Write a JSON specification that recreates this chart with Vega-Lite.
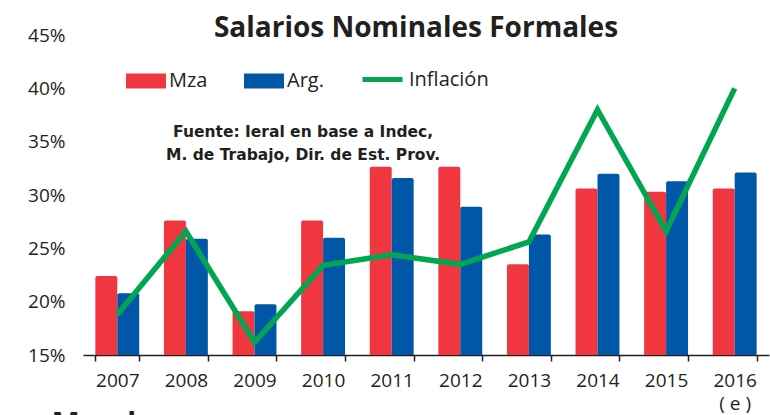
{
  "$schema": "https://vega.github.io/schema/vega-lite/v6.json",
  "width": 686,
  "height": 320,
  "autosize": {"type": "none"},
  "padding": {"left": 83, "top": 35, "right": 1, "bottom": 60},
  "background": "white",
  "config": {
    "view": {"stroke": null},
    "font": "Open Sans",
    "text": {"font": "Open Sans"}
  },
  "title": {
    "text": "Salarios Nominales Formales",
    "font": "Open Sans",
    "fontSize": 28,
    "fontWeight": "bold",
    "color": "#231F20",
    "anchor": "middle",
    "baseline": "alphabetic",
    "offset": 0,
    "dx": -10,
    "dy": 39
  },
  "datasets": {
    "bars": [
      {"year": "2007", "series": "Mza", "value": 22.4},
      {"year": "2007", "series": "Arg.", "value": 20.8},
      {"year": "2008", "series": "Mza", "value": 27.6},
      {"year": "2008", "series": "Arg.", "value": 25.9},
      {"year": "2009", "series": "Mza", "value": 19.1},
      {"year": "2009", "series": "Arg.", "value": 19.75},
      {"year": "2010", "series": "Mza", "value": 27.6},
      {"year": "2010", "series": "Arg.", "value": 26.0},
      {"year": "2011", "series": "Mza", "value": 32.65},
      {"year": "2011", "series": "Arg.", "value": 31.6},
      {"year": "2012", "series": "Mza", "value": 32.65},
      {"year": "2012", "series": "Arg.", "value": 28.9},
      {"year": "2013", "series": "Mza", "value": 23.5},
      {"year": "2013", "series": "Arg.", "value": 26.3},
      {"year": "2014", "series": "Mza", "value": 30.6},
      {"year": "2014", "series": "Arg.", "value": 32.0},
      {"year": "2015", "series": "Mza", "value": 30.3},
      {"year": "2015", "series": "Arg.", "value": 31.3},
      {"year": "2016", "series": "Mza", "value": 30.6},
      {"year": "2016", "series": "Arg.", "value": 32.1}
    ],
    "infl": [
      {"year": "2007", "value": 18.8},
      {"year": "2008", "value": 26.6},
      {"year": "2009", "value": 16.2},
      {"year": "2010", "value": 23.4},
      {"year": "2011", "value": 24.4},
      {"year": "2012", "value": 23.5},
      {"year": "2013", "value": 25.6},
      {"year": "2014", "value": 38.0},
      {"year": "2015", "value": 26.6},
      {"year": "2016", "value": 40.0}
    ],
    "note": [
      {"year": "2010", "value": 35.95, "text": "Fuente:  Ieral en base a Indec,\nM. de Trabajo, Dir. de Est. Prov."}
    ]
  },
  "encoding": {
    "x": {
      "field": "year",
      "type": "nominal",
      "sort": null,
      "scale": {"paddingInner": 0.36, "paddingOuter": 0.18},
      "axis": {
        "labelAngle": 0,
        "labelFont": "Open Sans",
        "labelFontSize": 19,
        "labelColor": "#231F20",
        "labelPadding": 10,
        "labelLineHeight": 23,
        "labelExpr": "datum.value == '2016' ? ['2016', '( e )'] : datum.label",
        "domainColor": "#231F20",
        "domainWidth": 1.5,
        "tickColor": "#231F20",
        "tickWidth": 1.5,
        "tickSize": 6,
        "tickBand": "extent",
        "grid": false,
        "title": "Mendoza",
        "titleFont": "Open Sans",
        "titleFontSize": 30,
        "titleFontWeight": "bold",
        "titleColor": "#231F20",
        "titleAnchor": "start",
        "titleAlign": "left",
        "titleBaseline": "top",
        "titleX": -32,
        "titleY": 54
      }
    }
  },
  "layer": [
    {
      "data": {"name": "bars"},
      "mark": {"type": "bar", "cornerRadiusTopLeft": 2, "cornerRadiusTopRight": 2},
      "encoding": {
        "xOffset": {"field": "series", "type": "nominal", "sort": ["Mza", "Arg."]},
        "y": {
          "field": "value",
          "type": "quantitative",
          "scale": {"domain": [15, 45], "zero": false, "nice": false},
          "axis": {
            "values": [15, 20, 25, 30, 35, 40, 45],
            "labelExpr": "datum.value + '%'",
            "labelFont": "Open Sans",
            "labelFontSize": 19,
            "labelColor": "#231F20",
            "labelPadding": 18,
            "domain": false,
            "ticks": false,
            "grid": false,
            "title": null
          }
        },
        "y2": {"datum": 15},
        "color": {
          "field": "series",
          "type": "nominal",
          "scale": {"domain": ["Mza", "Arg."], "range": ["#F0373F", "#0057A8"]},
          "legend": {
            "orient": "none",
            "legendX": 43,
            "legendY": 26,
            "direction": "horizontal",
            "title": null,
            "padding": 0,
            "symbolType": "M-1,-0.375H1V0.375H-1Z",
            "symbolSize": 1600,
            "symbolStrokeWidth": 0,
            "labelFont": "Open Sans",
            "labelFontSize": 20,
            "labelColor": "#231F20",
            "labelOffset": 3,
            "columnPadding": 36
          }
        }
      }
    },
    {
      "data": {"name": "infl"},
      "mark": {"type": "line", "strokeWidth": 5.5, "strokeJoin": "miter", "strokeCap": "butt"},
      "encoding": {
        "y": {"field": "value", "type": "quantitative"},
        "stroke": {
          "datum": "Inflación",
          "scale": {"range": ["#00A651"]},
          "legend": {
            "orient": "none",
            "legendX": 277,
            "legendY": 22,
            "title": null,
            "padding": 0,
            "symbolType": "stroke",
            "symbolSize": 1600,
            "symbolStrokeWidth": 5,
            "labelFont": "Open Sans",
            "labelFontSize": 20,
            "labelColor": "#231F20",
            "labelOffset": 4
          }
        }
      }
    },
    {
      "data": {"name": "note"},
      "mark": {
        "type": "text",
        "font": "DejaVu Sans",
        "fontSize": 15.5,
        "fontWeight": "bold",
        "color": "#231F20",
        "align": "center",
        "baseline": "middle",
        "lineBreak": "\n",
        "lineHeight": 23,
        "dx": -20
      },
      "encoding": {
        "y": {"field": "value", "type": "quantitative"},
        "text": {"field": "text"}
      }
    }
  ]
}
